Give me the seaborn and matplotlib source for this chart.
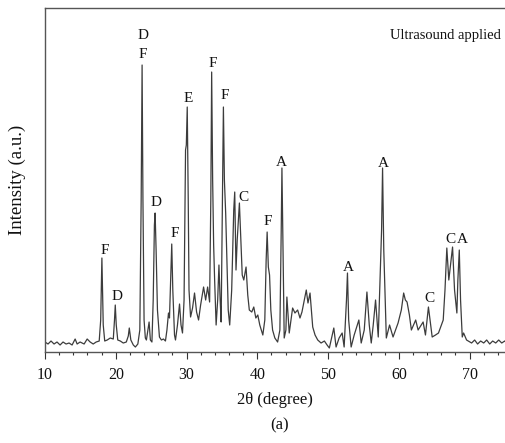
import matplotlib
matplotlib.use("Agg")
import matplotlib.pyplot as plt
import seaborn as sns
import pandas as pd
from matplotlib.ticker import MultipleLocator

# 2-theta positions (degree)
two_theta = [
    10.00, 10.43, 10.85, 11.28, 11.70, 12.13, 12.55, 12.98, 13.40, 13.83,
    14.26, 14.54, 14.96, 15.53, 15.96, 16.38, 16.81, 17.23, 17.66, 17.87,
    18.04, 18.23, 18.44, 18.79, 19.22, 19.65, 19.82, 19.93, 20.07, 20.28,
    20.64, 21.06, 21.49, 21.77, 21.91, 22.13, 22.48, 22.77, 23.12, 23.40,
    23.59, 23.72, 23.84, 24.00, 24.18, 24.33, 24.71, 24.89, 25.11, 25.29,
    25.46, 25.56, 25.70, 25.89, 26.17, 26.45, 26.74, 27.02, 27.23, 27.45,
    27.59, 27.80, 27.91, 28.06, 28.30, 28.44, 28.72, 29.01, 29.22, 29.43,
    29.65, 29.86, 29.97, 30.10, 30.24, 30.35, 30.57, 30.85, 31.13, 31.42,
    31.70, 31.99, 32.41, 32.70, 32.98, 33.26, 33.43, 33.55, 33.69, 33.83,
    33.97, 34.18, 34.40, 34.58, 34.75, 34.89, 35.08, 35.21, 35.35, 35.53,
    35.67, 35.89, 36.10, 36.38, 36.67, 36.81, 36.99, 37.16, 37.47, 37.66,
    37.87, 38.09, 38.41, 38.65, 38.87, 39.22, 39.50, 39.79, 40.07, 40.35,
    40.78, 41.06, 41.25, 41.39, 41.56, 41.73, 41.91, 42.16, 42.48, 42.87,
    43.19, 43.38, 43.48, 43.62, 43.80, 44.04, 44.18, 44.51, 44.99, 45.32,
    45.70, 46.03, 46.31, 46.92, 47.16, 47.45, 47.83, 48.16, 48.54, 49.01,
    49.48, 49.86, 50.18, 50.43, 50.81, 51.13, 51.56, 51.99, 52.27, 52.60,
    52.74, 52.91, 53.26, 53.69, 54.35, 54.68, 55.11, 55.49, 55.82, 56.10,
    56.38, 56.71, 57.09, 57.56, 57.70, 57.87, 58.23, 58.69, 59.18, 59.89,
    60.35, 60.68, 60.92, 61.16, 61.49, 61.77, 62.38, 62.72, 63.43, 63.76,
    64.18, 64.71, 65.18, 65.60, 66.27, 66.52, 66.78, 67.06, 67.59, 67.87,
    68.20, 68.34, 68.54, 68.72, 68.96, 69.15, 69.57, 70.28, 70.71, 71.13,
    71.56, 71.99, 72.41, 72.84, 73.26, 73.69, 74.11, 74.54, 74.96, 75.25,
]

# intensity (a.u.)
intensity = [
    10, 8, 11, 8, 10, 7, 10, 8, 9, 7,
    13, 8, 10, 8, 13, 10, 8, 10, 11, 32,
    94, 27, 11, 12, 14, 13, 32, 47, 27, 12,
    11, 9, 10, 16, 24, 12, 7, 5, 8, 22,
    152, 287, 152, 32, 14, 12, 30, 12, 10, 52,
    127, 139, 102, 42, 15, 12, 13, 11, 22, 39,
    34, 82, 108, 62, 17, 12, 27, 48, 27, 19,
    52, 202, 207, 245, 152, 62, 35, 44, 59, 40,
    32, 47, 65, 52, 65, 50, 152, 280, 172, 107,
    72, 27, 52, 87, 52, 30, 152, 245, 172, 139,
    102, 42, 27, 62, 142, 160, 82, 112, 149, 115,
    77, 72, 85, 57, 42, 40, 45, 34, 37, 27,
    17, 32, 92, 120, 85, 77, 42, 22, 14, 10,
    22, 122, 184, 112, 14, 22, 55, 19, 44, 39,
    42, 34, 40, 62, 49, 59, 25, 17, 12, 9,
    11, 7, 4, 12, 24, 5, 14, 19, 5, 52,
    79, 32, 5, 17, 32, 9, 22, 60, 27, 9,
    27, 52, 15, 122, 184, 102, 14, 27, 15, 29,
    42, 59, 52, 50, 37, 22, 32, 22, 30, 17,
    45, 15, 17, 19, 32, 62, 104, 72, 105, 62,
    39, 72, 102, 52, 15, 19, 12, 9, 12, 8,
    11, 9, 12, 8, 11, 9, 12, 9, 11, 9,
]

# phase labels: text, 2-theta, intensity
label_text = ["F", "D", "D", "F", "D", "F", "E", "F", "F", "C", "F",
              "A", "A", "A", "C", "C", "A"]
label_x = [18.51, 20.21, 23.86, 23.86, 25.65, 28.30, 30.24, 33.73, 35.43,
           37.99, 41.44, 43.43, 52.93, 57.76, 64.28, 67.35, 69.01]
label_y = [102, 56, 317, 298, 150, 119, 254, 289, 257, 155, 131,
           190, 85, 189, 54, 113, 113]

x_ticks = [10, 20, 30, 40, 50, 60, 70]

sns.set_theme(style="ticks")
plt.rcParams["font.family"] = ["Liberation Serif", "DejaVu Serif"]

df = pd.DataFrame({"two_theta": two_theta, "intensity": intensity})

fig = plt.figure(figsize=(5.05, 4.43), dpi=100)
ax = fig.add_axes([0.0891, 0.2054, 0.9109, 0.7765])

sns.lineplot(data=df, x="two_theta", y="intensity", ax=ax,
             color="#3c3c3c", linewidth=0.9, sort=False)

for t, lx, ly in zip(label_text, label_x, label_y):
    ax.text(lx, ly, t, ha="center", va="center", fontsize=11, color="#111111")

ax.text(74.4, 317, "Ultrasound applied", ha="right", va="center",
        fontsize=10.5, color="#111111")

ax.set_xlim(10, 75)
ax.set_ylim(0, 344)
ax.set_xticks(x_ticks)
ax.xaxis.set_minor_locator(MultipleLocator(2))
ax.set_yticks([])
ax.tick_params(axis="x", which="major", direction="out", length=5,
               width=0.8, labelsize=11.5, pad=6, colors="#333333",
               labelcolor="#111111")
ax.tick_params(axis="x", which="minor", direction="out", length=2.5,
               width=0.8, colors="#333333")
for side in ["left", "bottom", "top"]:
    ax.spines[side].set_color("#555555")
    ax.spines[side].set_linewidth(1.0)
ax.spines["right"].set_visible(False)

ax.set_xlabel("2θ (degree)", fontsize=12, labelpad=6, color="#111111")
ax.set_ylabel("Intensity (a.u.)", fontsize=13.5, labelpad=14, color="#111111")
fig.text(0.5545, 0.040, "(a)", ha="center", va="center", fontsize=12,
         color="#111111")

fig.savefig("out.png", dpi=100)
